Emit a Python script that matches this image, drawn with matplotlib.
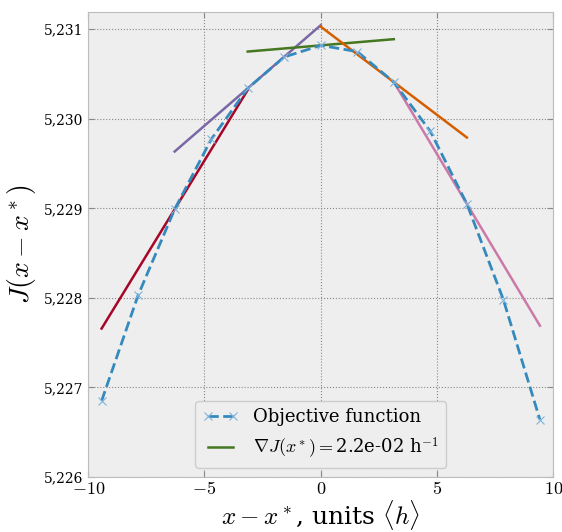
import numpy as np
import matplotlib
matplotlib.use("Agg")
import matplotlib.pyplot as plt
from matplotlib.ticker import FuncFormatter

# objective function sampled at k*pi/2, k=-6..6
x_k = np.arange(-6, 7)
J = [5226.85, 5228.03, 5228.99, 5229.77, 5230.34, 5230.69, 5230.82,
     5230.75, 5230.41, 5229.86, 5229.05, 5227.98, 5226.64]

# local gradient lines: centre (multiple of pi) and slope
grad_centre = [-2, -1, 0, 1, 2]
grad_slope = [0.424, 0.2245, 0.022, -0.197, -0.433]
grad_colors = ['#A60628', '#7A68A6', '#467821', '#D55E00', '#CC79A7']

plt.rcParams['font.family'] = ['DejaVu Serif']
plt.rcParams['mathtext.fontset'] = 'cm'

fig = plt.figure(figsize=(5.62, 5.32), dpi=100)
ax = fig.add_axes([0.157, 0.1034, 0.8275, 0.8736])
ax.set_facecolor('#eeeeee')

x = x_k * np.pi / 2
ax.plot(x, J, '--', color='#348ABD', lw=2, marker='x', ms=6, mew=0.8,
        mec='#7fb3dc', label='Objective function', zorder=3)

for c, s, col in zip(grad_centre, grad_slope, grad_colors):
    xc = c * np.pi
    yc = J[list(x_k).index(2 * c)]
    xs = np.array([xc - np.pi, xc + np.pi])
    lab = r'$\nabla J(x^*) = $2.2e-02 h$^{-1}$' if c == 0 else None
    ax.plot(xs, yc + s * (xs - xc), '-', color=col, lw=1.8, label=lab, zorder=2)

ax.set_xlim(-10, 10)
ax.set_ylim(5226, 5231.19)
ax.set_xticks([-10, -5, 0, 5, 10])
ax.set_yticks([5226, 5227, 5228, 5229, 5230, 5231])
ax.xaxis.set_major_formatter(FuncFormatter(lambda v, p: r'$%d$' % v if v >= 0 else r'$-%d$' % -v))
ax.yaxis.set_major_formatter(FuncFormatter(lambda v, p: '{:,.0f}'.format(v)))
ax.tick_params(direction='in', top=True, right=True, color='#888888',
               length=4, labelsize=10)
ax.tick_params(axis='x', labelsize=13, pad=2)
ax.grid(True, linestyle=':', color='#888888', lw=0.8)
for sp in ax.spines.values():
    sp.set_color('#bcbcbc')

ax.set_xlabel(r'$x - x^*$, units $\langle h \rangle$', fontsize=18, labelpad=0)
ax.set_ylabel(r'$J(x - x^*)$', fontsize=20)

leg = ax.legend(loc='lower center', fontsize=13, facecolor='#eeeeee',
                edgecolor='#cccccc', framealpha=1, numpoints=2)

fig.savefig('out.png', dpi=100)
